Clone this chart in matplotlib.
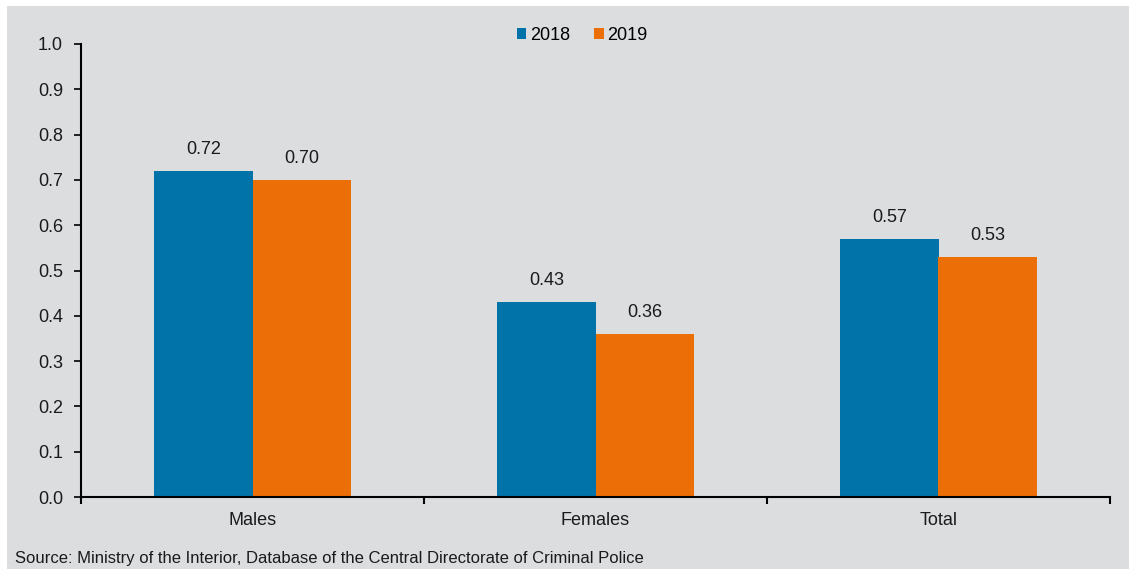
import numpy as np
import matplotlib
matplotlib.use("Agg")
import matplotlib.pyplot as plt
from matplotlib.patches import Rectangle

categories = ["Males", "Females", "Total"]
years = ["2018", "2019"]
values_2018 = [0.72, 0.43, 0.57]
values_2019 = [0.70, 0.36, 0.53]
labels_2018 = ["0.72", "0.43", "0.57"]
labels_2019 = ["0.70", "0.36", "0.53"]
yticks = [0.0, 0.1, 0.2, 0.3, 0.4, 0.5, 0.6, 0.7, 0.8, 0.9, 1.0]
source = "Source: Ministry of the Interior, Database of the Central Directorate of Criminal Police"

BG = "#dcdddf"
BLUE = "#0173a8"
ORANGE = "#ec6e07"
FS = 13
plt.rcParams["font.family"] = ["Liberation Sans", "DejaVu Sans"]

fig = plt.figure(figsize=(11.29, 5.69), dpi=100, facecolor="white")
fig.patches.append(Rectangle((7 / 1129, 0), 1, 1 - 6 / 569, transform=fig.transFigure,
                             facecolor=BG, edgecolor="none", zorder=-10))
ax = fig.add_axes([81 / 1129, 1 - 497 / 569, 1029 / 1129, 453 / 569])
ax.set_facecolor(BG)

x = np.arange(len(categories))
w = 0.286
b1 = ax.bar(x - w / 2, values_2018, w, color=BLUE, label=years[0])
b2 = ax.bar(x + w / 2, values_2019, w, color=ORANGE, label=years[1])
for bars, labs in [(b1, labels_2018), (b2, labels_2019)]:
    for r, t in zip(bars, labs):
        ax.annotate(t, (r.get_x() + r.get_width() / 2, r.get_height()),
                    xytext=(0, 9.5), textcoords="offset points",
                    ha="center", va="bottom", fontsize=FS, color="#1a1a1a")

ax.set_xlim(-0.5, len(categories) - 0.5)
ax.set_ylim(0, 1.0)
ax.set_yticks(yticks)
ax.set_yticklabels([f"{v:.1f}" for v in yticks], fontsize=FS, color="#1a1a1a")
ax.set_xticks(np.arange(len(categories) + 1) - 0.5)
ax.set_xticklabels([])
ax.set_xticks(x, minor=True)
ax.set_xticklabels(categories, minor=True, fontsize=FS, color="#1a1a1a")
ax.tick_params(axis="x", which="minor", length=0, pad=11)
ax.tick_params(axis="x", which="major", length=5, width=1.5, direction="out")
ax.tick_params(axis="y", length=5, width=1.2, direction="out", pad=8)
for s in ["top", "right"]:
    ax.spines[s].set_visible(False)
for s in ["left", "bottom"]:
    ax.spines[s].set_linewidth(1.5)
    ax.spines[s].set_color("black")

fig.legend(loc="center", bbox_to_anchor=(582 / 1129, 1 - 35 / 569), ncol=2,
           frameon=False, fontsize=FS, handlelength=0.55, handleheight=0.55,
           handletextpad=0.2, columnspacing=1.3)

fig.text(15 / 1129, 1 - 558 / 569, source, fontsize=12, va="center", ha="left",
         family=["Liberation Sans Narrow", "Liberation Sans", "DejaVu Sans"],
         color="#1a1a1a")

fig.savefig("out.png", dpi=100, facecolor=fig.get_facecolor())
